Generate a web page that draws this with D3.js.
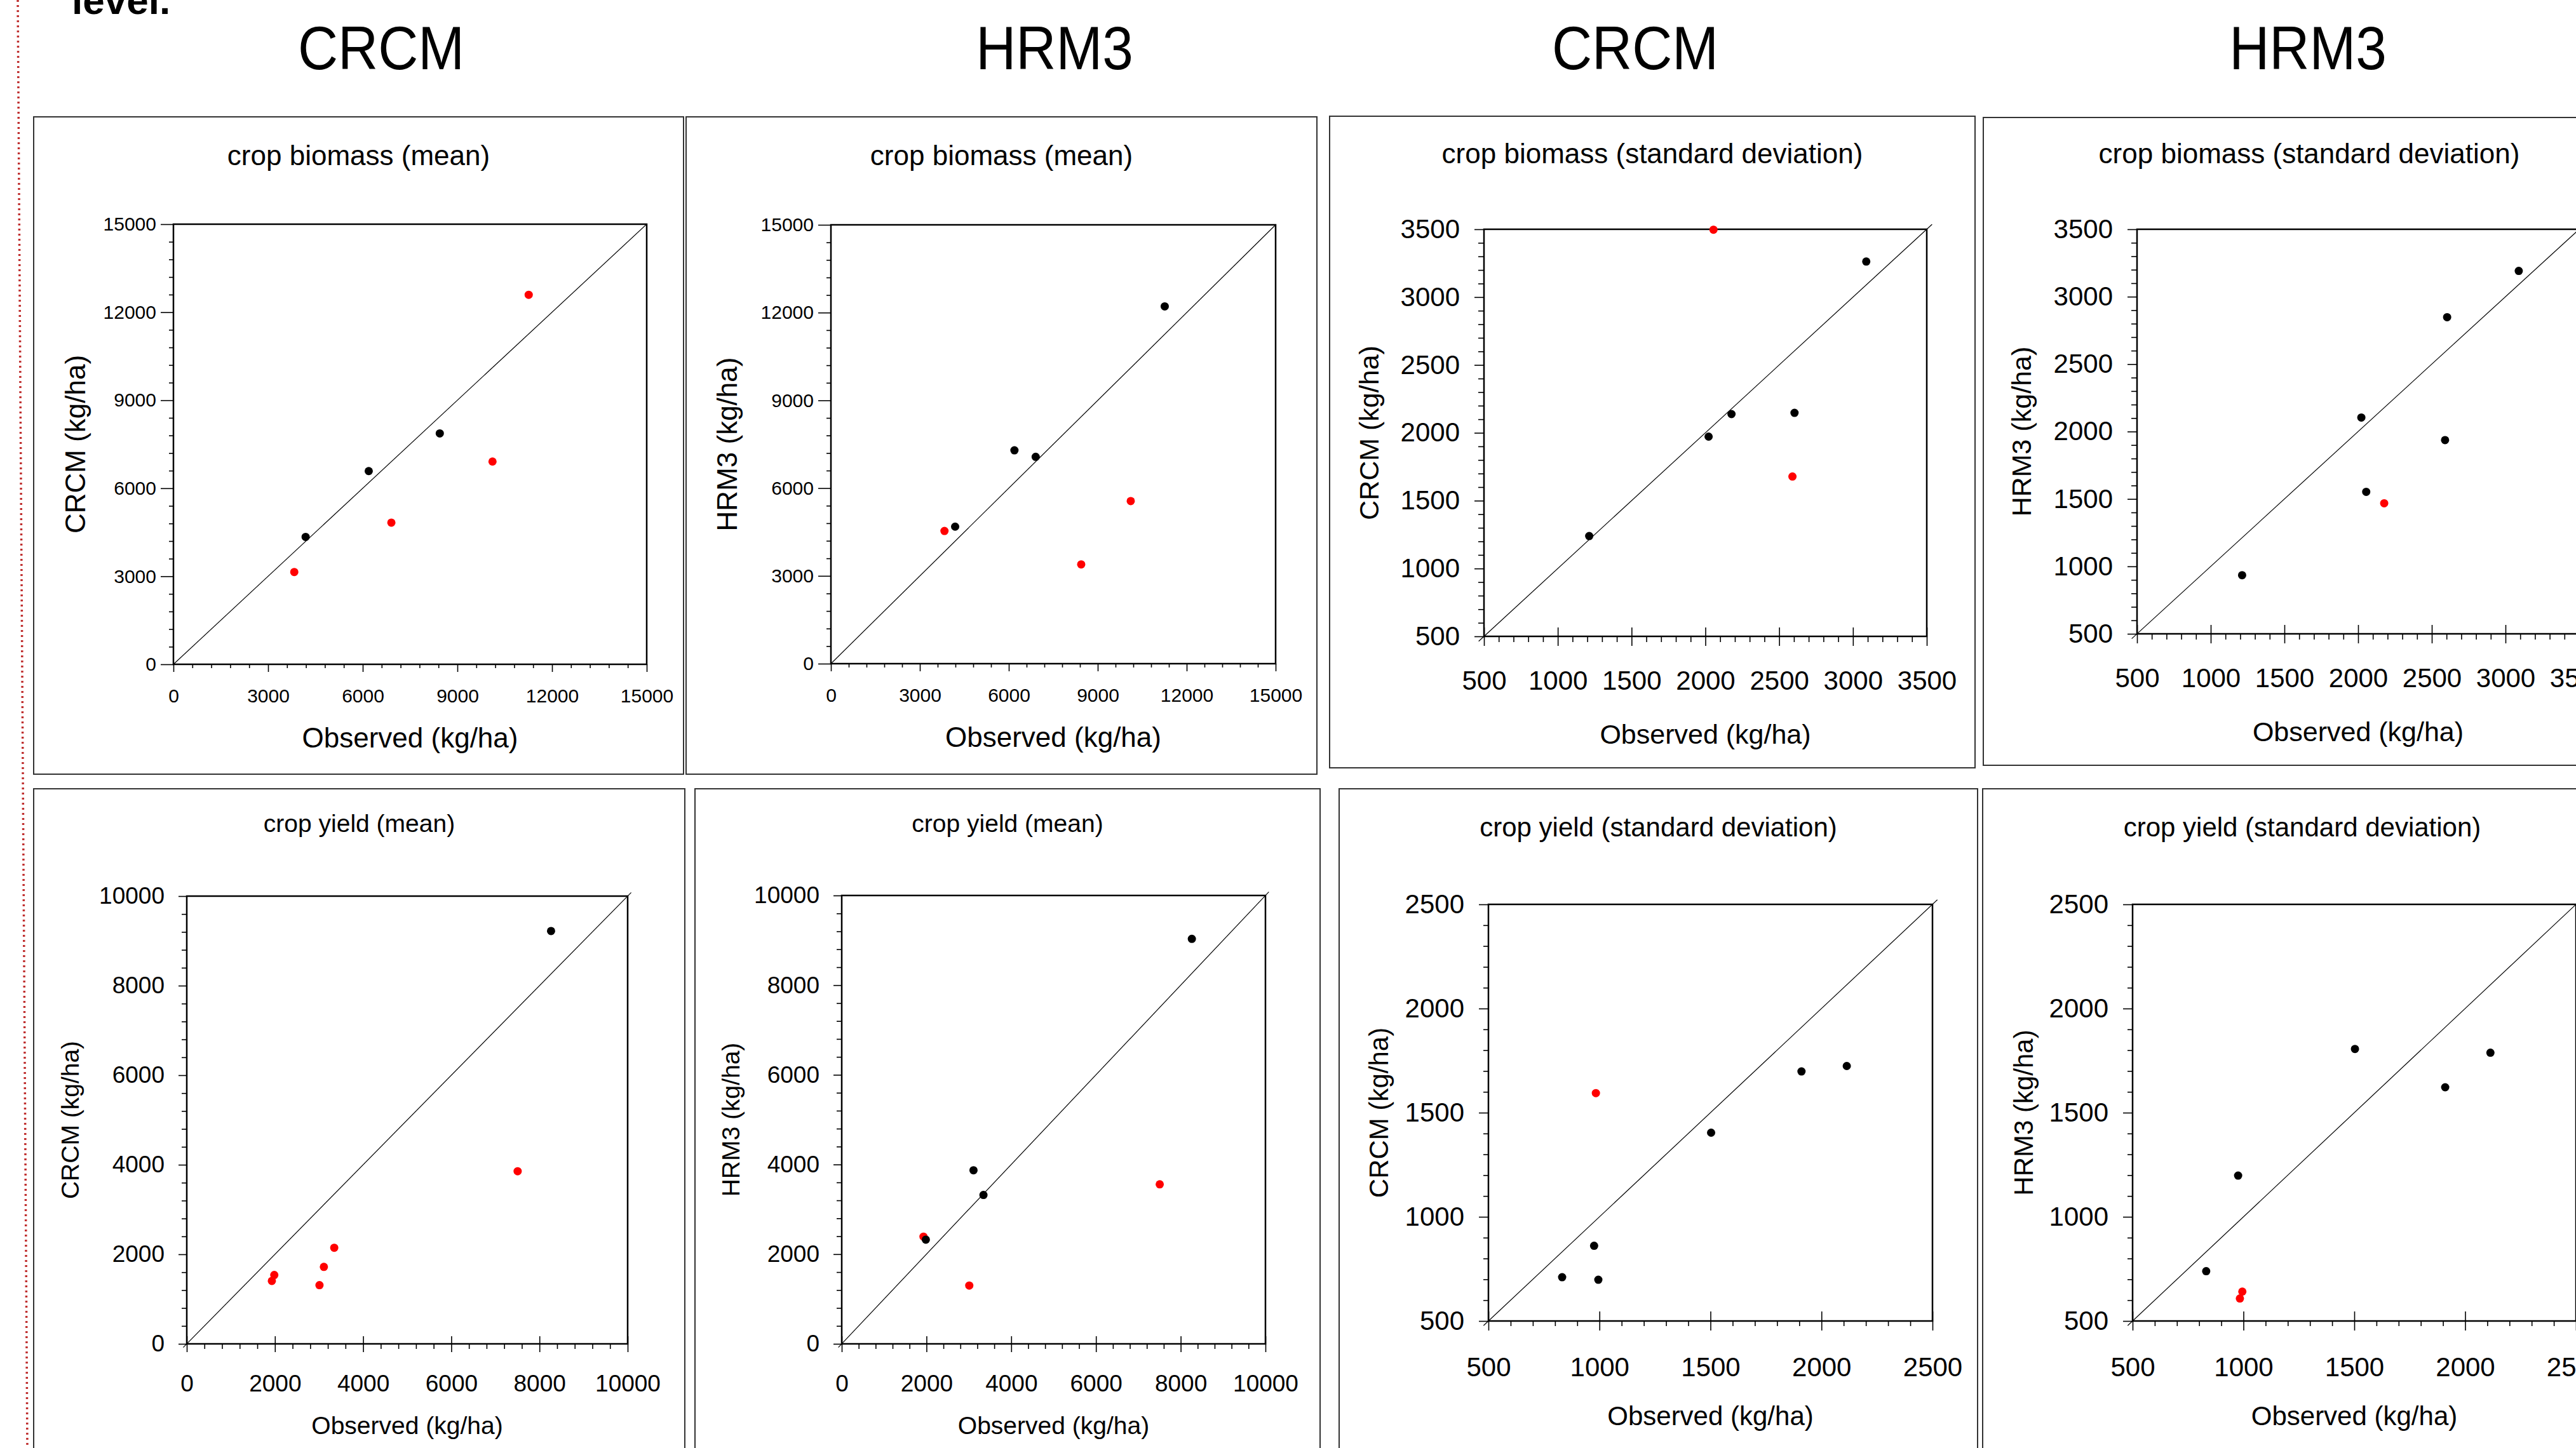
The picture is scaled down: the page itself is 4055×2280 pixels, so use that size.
<!DOCTYPE html>
<html lang="en">
<head>
<meta charset="UTF-8">
<title>Crop biomass and yield: CRCM / HRM3 vs observed</title>
<script src="https://cdn.jsdelivr.net/npm/d3@7.8.5/dist/d3.min.js"></script>
<style>
  body { margin: 0; background: #fff; }
  svg { display: block; font-family: "Liberation Sans", Arial, Helvetica, sans-serif; }
</style>
</head>
<body>
<div id="box"></div>
<script>
// ---- data (kg/ha) ----
// observed values are shared by the CRCM and HRM3 panels of each variable
const biomassMeanObs = [3830, 4190, 6190, 6907, 8442, 10113, 11260]
const biomassMeanCRCM = [3145, 4341, 6585, 4828, 7870, 6910, 12594]
const biomassMeanCRCMRed = [1, 0, 0, 1, 0, 1, 1]
const biomassMeanHRM3 = [4535, 4684, 7292, 7070, 3394, 5558, 12213]
const biomassMeanHRM3Red = [1, 0, 0, 0, 1, 1, 0]

const biomassSdObs = [1213, 2022, 2055, 2177, 2590, 2604, 3090]
const biomassSdCRCM = [1239, 1972, 3497, 2138, 1678, 2147, 3262]
const biomassSdCRCMRed = [0, 0, 1, 0, 1, 0, 0]
const biomassSdHRM3 = [935, 2104, 1553, 1468, 1937, 2848, 3191]
const biomassSdHRM3Red = [0, 0, 0, 1, 0, 0, 0]

const yieldMeanObs = [1930, 1985, 3010, 3110, 3345, 7505, 8263]
const yieldMeanCRCM = [1406, 1538, 1311, 1719, 2146, 3856, 9221]
const yieldMeanCRCMRed = [1, 1, 1, 1, 1, 1, 0]
const yieldMeanHRM3 = [2391, 2324, 1300, 3871, 3321, 3558, 9032]
const yieldMeanHRM3Red = [1, 0, 1, 0, 0, 1, 0]

const yieldSdObs = [832, 976, 984, 995, 1503, 1910, 2114]
const yieldSdCRCM = [710, 861, 1594, 698, 1404, 1698, 1724]
const yieldSdCRCMRed = [0, 0, 1, 0, 0, 0, 0]
const yieldSdHRM3 = [739, 1198, 608, 641, 1806, 1622, 1788]
const yieldSdHRM3Red = [0, 0, 1, 1, 0, 0, 0]

// tick labels
const biomassMeanTicks = [0, 3000, 6000, 9000, 12000, 15000]
const biomassSdTicks = [500, 1000, 1500, 2000, 2500, 3000, 3500]
const yieldMeanTicks = [0, 2000, 4000, 6000, 8000, 10000]
const yieldSdTicks = [500, 1000, 1500, 2000, 2500]

// texts
const headers = ['CRCM', 'HRM3', 'CRCM', 'HRM3']
const panelTitles = ['crop biomass (mean)', 'crop biomass (standard deviation)', 'crop yield (mean)', 'crop yield (standard deviation)']
const xTitle = 'Observed (kg/ha)'
const yTitles = ['CRCM (kg/ha)', 'HRM3 (kg/ha)']

// ---- layout ----
const width = 4055
const height = 2280

const svg = d3.select('#box').append('svg')
  .attr('width', width)
  .attr('height', height)

// page margin dotted line and cut-off heading
svg.append('line')
  .attr('x1', 28).attr('y1', 0).attr('x2', 43).attr('y2', height)
  .attr('stroke', '#c03030').attr('stroke-width', 3.5)
  .attr('stroke-dasharray', '3,5')

svg.append('text')
  .attr('x', 113).attr('y', 22)
  .attr('font-size', 62).attr('font-weight', 'bold')
  .text('level.')

const headerX = [600, 1660, 2574, 3633]
headers.forEach((h, i) => {
  svg.append('text')
    .attr('transform', `translate(${headerX[i]},109) scale(0.91,1)`)
    .attr('text-anchor', 'middle')
    .attr('font-size', 96)
    .text(h)
})

// text / tick sizes per variable
const styles = {
  bm: { fTitle: 44, fAxis: 44, fTick: 30, yMajor: 20, yMinor: 7, xIn: 0, xOut: 12, xMinor: 6, yPad: 7, xLab: 60, xTitleDy: 131 },
  bs: { fTitle: 44, fAxis: 43, fTick: 42, yMajor: 15, yMinor: 9, xIn: 14, xOut: 15, xMinor: 9, yPad: 23, xLab: 84, xTitleDy: 169 },
  ym: { fTitle: 39, fAxis: 39, fTick: 37, yMajor: 13, yMinor: 8, xIn: 12, xOut: 13, xMinor: 8, yPad: 22, xLab: 75, xTitleDy: 142 },
  ys: { fTitle: 42, fAxis: 42, fTick: 42, yMajor: 15, yMinor: 8, xIn: 15, xOut: 15, xMinor: 8, yPad: 23, xLab: 87, xTitleDy: 164 }
}

const panels = [
  { type: 'bm', title: panelTitles[0], yTitle: yTitles[0], obs: biomassMeanObs, sim: biomassMeanCRCM, red: biomassMeanCRCMRed, ticks: biomassMeanTicks, minor: 600,
    box: [53, 184, 1076, 1219], plot: [273, 353, 1018, 1046], titleY: 260, yTitleX: 134, ext: 0 },
  { type: 'bm', title: panelTitles[0], yTitle: yTitles[1], obs: biomassMeanObs, sim: biomassMeanHRM3, red: biomassMeanHRM3Red, ticks: biomassMeanTicks, minor: 600,
    box: [1080, 184, 2073, 1219], plot: [1308, 354, 2008, 1045], titleY: 260, yTitleX: 1160, ext: 0 },
  { type: 'bs', title: panelTitles[1], yTitle: yTitles[0], obs: biomassSdObs, sim: biomassSdCRCM, red: biomassSdCRCMRed, ticks: biomassSdTicks, minor: 100,
    box: [2093, 183, 3109, 1209], plot: [2336, 361, 3033, 1002], titleY: 257, yTitleX: 2170, ext: 0.012 },
  { type: 'bs', title: panelTitles[1], yTitle: yTitles[1], obs: biomassSdObs, sim: biomassSdHRM3, red: biomassSdHRM3Red, ticks: biomassSdTicks, minor: 100,
    box: [3122, 185, 4148, 1205], plot: [3364, 361, 4060, 998], titleY: 257, yTitleX: 3197, ext: 0.012 },
  { type: 'ym', title: panelTitles[2], yTitle: yTitles[0], obs: yieldMeanObs, sim: yieldMeanCRCM, red: yieldMeanCRCMRed, ticks: yieldMeanTicks, minor: 400,
    box: [53, 1242, 1078, 2300], plot: [294, 1411, 988, 2116], titleY: 1310, yTitleX: 124, ext: 0.008 },
  { type: 'ym', title: panelTitles[2], yTitle: yTitles[1], obs: yieldMeanObs, sim: yieldMeanHRM3, red: yieldMeanHRM3Red, ticks: yieldMeanTicks, minor: 400,
    box: [1094, 1242, 2078, 2300], plot: [1325, 1410, 1992, 2116], titleY: 1310, yTitleX: 1164, ext: 0.008 },
  { type: 'ys', title: panelTitles[3], yTitle: yTitles[0], obs: yieldSdObs, sim: yieldSdCRCM, red: yieldSdCRCMRed, ticks: yieldSdTicks, minor: 100,
    box: [2108, 1242, 3113, 2300], plot: [2343, 1424, 3042, 2080], titleY: 1317, yTitleX: 2185, ext: 0.011 },
  { type: 'ys', title: panelTitles[3], yTitle: yTitles[1], obs: yieldSdObs, sim: yieldSdHRM3, red: yieldSdHRM3Red, ticks: yieldSdTicks, minor: 100,
    box: [3121, 1242, 4127, 2300], plot: [3357, 1424, 4055, 2080], titleY: 1317, yTitleX: 3200, ext: 0.011 }
]

function drawPanel(p) {
  const st = styles[p.type]
  const g = svg.append('g')
  const [bx0, by0, bx1, by1] = p.box
  const [px0, py0, px1, py1] = p.plot

  // panel border
  g.append('rect')
    .attr('x', bx0).attr('y', by0)
    .attr('width', bx1 - bx0).attr('height', by1 - by0)
    .attr('fill', 'none').attr('stroke', '#333').attr('stroke-width', 2)

  const lo = p.ticks[0]
  const hi = p.ticks[p.ticks.length - 1]
  const x = d3.scaleLinear().domain([lo, hi]).range([px0, px1])
  const y = d3.scaleLinear().domain([lo, hi]).range([py1, py0])
  const minorTicks = d3.range(lo, hi + p.minor / 2, p.minor).filter(v => !p.ticks.includes(v))

  // minor ticks
  g.append('g').attr('transform', `translate(${px0},0)`)
    .call(d3.axisLeft(y).tickValues(minorTicks).tickSize(st.yMinor).tickFormat(''))
    .call(a => a.select('.domain').remove())
  g.append('g').attr('transform', `translate(0,${py1})`)
    .call(d3.axisBottom(x).tickValues(minorTicks).tickSize(st.xMinor).tickFormat(''))
    .call(a => a.select('.domain').remove())

  // major ticks + labels
  const ya = g.append('g').attr('transform', `translate(${px0},0)`)
    .call(d3.axisLeft(y).tickValues(p.ticks).tickSize(st.yMajor).tickPadding(st.yPad).tickFormat(d3.format('d')))
  ya.select('.domain').remove()
  ya.attr('font-size', st.fTick).attr('font-family', null)

  const xa = g.append('g').attr('transform', `translate(0,${py1})`)
    .call(d3.axisBottom(x).tickValues(p.ticks).tickSize(st.xOut)
      .tickPadding(st.xLab - 0.71 * st.fTick - st.xOut).tickFormat(d3.format('d')))
  xa.select('.domain').remove()
  xa.selectAll('.tick line').attr('y1', -st.xIn)
  xa.attr('font-size', st.fTick).attr('font-family', null)

  g.selectAll('.tick line').attr('stroke-width', 1.6)

  // plot frame
  g.append('rect')
    .attr('x', px0).attr('y', py0)
    .attr('width', px1 - px0).attr('height', py1 - py0)
    .attr('fill', 'none').attr('stroke', '#000').attr('stroke-width', 2.5)

  // 1:1 line
  const e = p.ext * (hi - lo)
  g.append('line')
    .attr('x1', x(lo - e)).attr('y1', y(lo - e))
    .attr('x2', x(hi + e)).attr('y2', y(hi + e))
    .attr('stroke', '#000').attr('stroke-width', 1.2)

  // points
  g.append('g').selectAll('circle')
    .data(p.obs)
    .join('circle')
    .attr('cx', d => x(d))
    .attr('cy', (d, i) => y(p.sim[i]))
    .attr('r', 6.5)
    .attr('fill', (d, i) => p.red[i] ? '#ff0000' : '#000')

  // titles
  g.append('text')
    .attr('x', (bx0 + bx1) / 2).attr('y', p.titleY)
    .attr('text-anchor', 'middle').attr('font-size', st.fTitle)
    .text(p.title)

  g.append('text')
    .attr('x', (px0 + px1) / 2).attr('y', py1 + st.xTitleDy)
    .attr('text-anchor', 'middle').attr('font-size', st.fAxis)
    .text(xTitle)

  g.append('text')
    .attr('transform', `translate(${p.yTitleX},${(py0 + py1) / 2}) rotate(-90)`)
    .attr('text-anchor', 'middle').attr('font-size', st.fAxis)
    .text(p.yTitle)
}

panels.forEach(drawPanel)
</script>
</body>
</html>
